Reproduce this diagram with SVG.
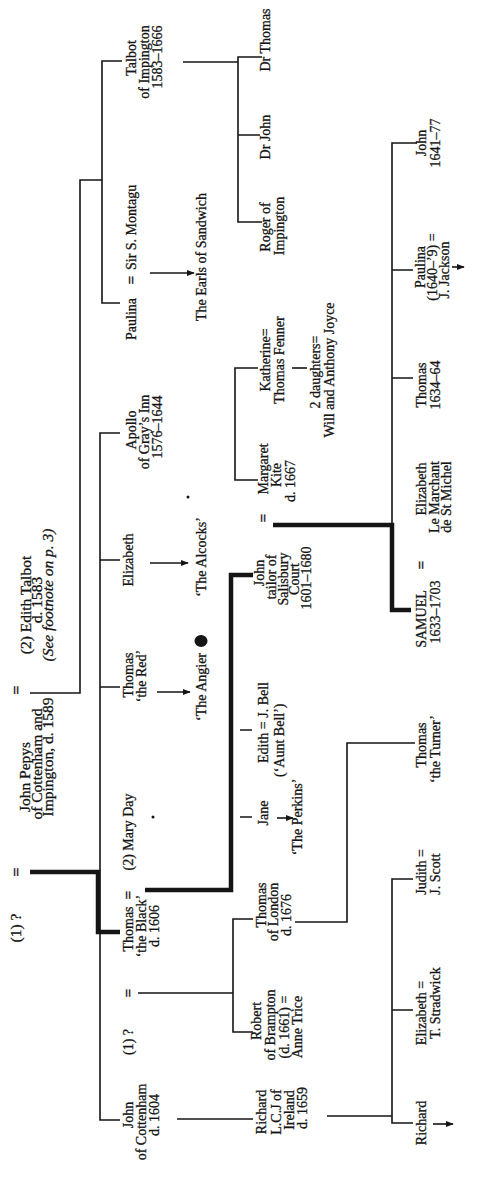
<svg xmlns="http://www.w3.org/2000/svg" width="484" height="1177" viewBox="0 0 484 1177">
<style>
text{font-family:"Liberation Serif","Times New Roman",serif;font-size:14px;fill:#151515;stroke:#151515;stroke-width:0.3;text-anchor:middle}
.g0 text{font-size:15.5px}
.i{font-style:italic}
.s{text-anchor:start}
.eq{font-weight:bold;font-size:15px}
.thin{fill:none;stroke:#151515;stroke-width:1.6}
.thick{fill:none;stroke:#151515;stroke-width:4.5}
</style>
<defs>
<marker id="ah" viewBox="0 0 10 10" refX="9" refY="5" markerWidth="5" markerHeight="5" orient="auto"><path d="M0,1 L10,5 L0,9 z" fill="#151515"/></marker>
</defs>
<rect width="484" height="1177" fill="#fff"/>
<g transform="translate(0,1177) rotate(-90)">
<g id="connectors">
<path class="thick" d="M305,30 V98 H245 V120"/>
<path class="thin" d="M57,120 V100 H744 V120 M490,100 V120 M617,100 V120"/>
<path class="thin" d="M484,30 V80 H997 V102"/>
<path class="thin" d="M874,120 V102 H1116 V122"/>
<path class="thick" d="M287,145 V231 H602 V253"/>
<path class="thin" d="M184,138 V233 M145,253 V233 H258 V253"/>
<path class="thin" d="M58,177 V253"/>
<path class="thin" d="M1115,183 V238 M955,262 V238 H1120 V262 M1042,238 V260"/>
<path class="thin" d="M697,258 V235 H809 V258"/>
<path class="thin" d="M809,292 V307"/>
<path class="thin" d="M447,240 V252 M360,240 V252"/>
<path class="thin" d="M255,295 V347 H434 V415"/>
<path class="thin" d="M61,327 V392 M54,413 V392 H298 V413 M167,392 V413"/>
<path class="thick" d="M652,273 V392 H567 V411"/>
<path class="thin" d="M652,392 H1034 V417 M799,392 V413 M907,392 V413"/>
<path class="thin" d="M485,157 V190" marker-end="url(#ah)"/>
<path class="thin" d="M614,150 V188" marker-end="url(#ah)"/>
<path class="thin" d="M904,150 V194" marker-end="url(#ah)"/>
<path class="thin" d="M359,277 V293" marker-end="url(#ah)"/>
<path class="thin" d="M910,452 V464" marker-end="url(#ah)"/>
<path class="thin" d="M53,433 V453" marker-end="url(#ah)"/>
</g>
<g class="g0">
<g id="first-wife"><text x="249" y="21">(1) ?</text><text class="eq" x="305" y="21">=</text></g>
<g id="john-pepys"><text x="400" y="30">John Pepys</text><text x="413" y="42">of Cottenham and</text><text x="420" y="53">Impington, d. 1589</text></g>
<g id="edith-talbot"><text class="eq" x="487" y="21">=</text><text x="572" y="31">(2) Edith Talbot</text><text x="577" y="42">d. 1583</text><text class="i" x="582" y="53">(See footnote on p. 3)</text></g>
</g>
<g id="john-cottenham"><text x="62" y="133">John</text><text x="55" y="146">of Cottenham</text><text x="62" y="159">d. 1604</text></g>
<g id="thomas-black"><text x="135" y="133">(1) ?</text><text class="eq" x="184" y="133">=</text><text x="248" y="133">Thomas</text><text class="eq" x="282" y="133">=</text><text x="345" y="133">(2) Mary Day</text><text x="251" y="146">‘the Black’</text><text x="251" y="159">d. 1606</text></g>
<g id="thomas-red"><text x="502" y="133">Thomas</text><text x="501" y="146">‘the Red’</text></g>
<g id="elizabeth"><text x="617" y="133">Elizabeth</text></g>
<g id="apollo"><text x="747" y="136">Apollo</text><text x="745" y="149">of Gray’s Inn</text><text x="750" y="162">1576–1644</text></g>
<g id="paulina"><text x="858" y="136">Paulina</text><text class="eq" x="897" y="136">=</text><text class="s" x="907" y="136">Sir S. Montagu</text></g>
<g id="talbot"><text x="1119" y="136">Talbot</text><text x="1115" y="149">of Impington</text><text x="1120" y="162">1583–1666</text></g>
<g id="angiers"><text x="490" y="206">‘The Angier</text><ellipse cx="536" cy="201" rx="6" ry="6.5" fill="#151515"/></g>
<g id="alcocks"><text x="620" y="206">‘The Alcocks’</text></g>
<g id="earls"><text x="920" y="206">The Earls of Sandwich</text></g>
<g id="dots"><circle cx="360" cy="153" r="1.5" fill="#151515"/><circle cx="680" cy="188" r="1.5" fill="#151515"/></g>
<g id="richard-lcj"><text x="65" y="266">Richard</text><text x="65" y="281">L.C.J of</text><text x="67" y="294">Ireland</text><text x="69" y="307">d. 1659</text></g>
<g id="robert"><text x="156" y="261">Robert</text><text x="152" y="275">of Brampton</text><text x="150" y="289">(d. 1661) =</text><text x="150" y="302">Anne Trice</text></g>
<g id="thomas-london"><text x="272" y="266">Thomas</text><text x="265" y="278">of London</text><text x="262" y="291">d. 1676</text></g>
<g id="jane"><text x="364" y="268">Jane</text><text x="360" y="302">‘The Perkins’</text></g>
<g id="edith"><text class="s" x="414" y="268">Edith = J. Bell</text><text class="s" x="400" y="284">(‘Aunt Bell’)</text></g>
<g id="john-tailor"><text x="604" y="264">John</text><text x="600" y="276">tailor of</text><text x="598" y="288">Salisbury</text><text x="598" y="299">Court</text><text x="599" y="311">1601–1680</text></g>
<g id="margaret"><text class="eq" x="659" y="268">=</text><text x="708" y="268">Margaret</text><text x="702" y="281">Kite</text><text x="696" y="295">d. 1667</text></g>
<g id="katherine"><text x="817" y="270">Katherine=</text><text x="817" y="284">Thomas Fenner</text></g>
<g id="daughters"><text x="805" y="320">2 daughters=</text><text x="807" y="334">Will and Anthony Joyce</text></g>
<g id="roger"><text x="950" y="270">Roger of</text><text x="951" y="284">Impington</text></g>
<g id="dr-john"><text x="1040" y="270">Dr John</text></g>
<g id="dr-thomas"><text x="1137" y="270">Dr Thomas</text></g>
<g id="richard"><text x="54" y="426">Richard</text></g>
<g id="elizabeth-stradwick"><text x="164" y="426">Elizabeth =</text><text x="174" y="440">T. Stradwick</text></g>
<g id="judith"><text x="305" y="426">Judith =</text><text x="303" y="440">J. Scott</text></g>
<g id="thomas-turner"><text x="432" y="426">Thomas</text><text x="428" y="440">‘the Turner’</text></g>
<g id="samuel"><text x="558" y="426">SAMUEL</text><text class="eq" x="612" y="426">=</text><text x="565" y="440">1633–1703</text></g>
<g id="elizabeth-marchant"><text x="688" y="426">Elizabeth</text><text x="680" y="439">Le Marchant</text><text x="680" y="451">de St Michel</text></g>
<g id="thomas-1634"><text x="792" y="426">Thomas</text><text x="792" y="440">1634–64</text></g>
<g id="paulina-jackson"><text x="910" y="425">Paulina</text><text x="910" y="437">(1640–’9) =</text><text x="907" y="449">J. Jackson</text></g>
<g id="john-1641"><text x="1034" y="426">John</text><text x="1034" y="440">1641–77</text></g>
</g>
</svg>
